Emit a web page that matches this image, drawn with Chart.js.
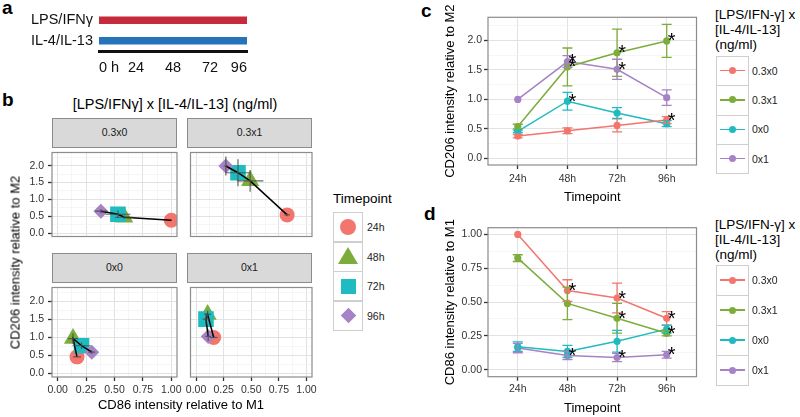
<!DOCTYPE html>
<html>
<head>
<meta charset="utf-8">
<title>CD206 / CD86 time course</title>
<script src="https://cdn.jsdelivr.net/npm/chart.js@4.4.1/dist/chart.umd.min.js"></script>
<style>
  body { margin: 0; background: #fff; }
  #fig { position: relative; width: 800px; height: 417px; overflow: hidden;
         font-family: "Liberation Sans", Arial, Helvetica, sans-serif; color: #000; }
  #fig > * { position: absolute; }
  .letter { font-weight: bold; font-size: 19px; line-height: 20px; }
  .strip { background: #d9d9d9; border: 1px solid #8c8c8c; box-sizing: border-box;
           font-size: 10.5px; line-height: 27px; color: #1a1a1a; text-align: center; }
  .key { border: 1px solid #cfcfcf; box-sizing: border-box; background: #fff; }
  .keytxt { font-size: 10.5px; line-height: 12px; color: #222; }
  .ltitle { font-size: 13.5px; line-height: 15px; }
</style>
</head>
<body>
<div id="fig"></div>
<script>
var FONT = '"Liberation Sans", Arial, Helvetica, sans-serif';
Chart.defaults.font.family = FONT;
Chart.defaults.color = '#333';

// ---- data ----
var timepoints = ['24h', '48h', '72h', '96h'];
var groups = ['0.3x0', '0.3x1', '0x0', '0x1'];

// CD206 intensity relative to M2 (panel c), one row per group
var cd206 = [
  [0.38, 0.47, 0.56, 0.65],
  [0.54, 1.55, 1.79, 1.99],
  [0.46, 0.97, 0.77, 0.59],
  [1.00, 1.64, 1.51, 1.03]
];
var cd206Err = [
  [0.03, 0.05, 0.11, 0.06],
  [0.04, 0.32, 0.40, 0.28],
  [0.02, 0.15, 0.09, 0.05],
  [0.00, 0.10, 0.17, 0.13]
];
var cd206Sig = [[0, 0, 0, 1], [0, 1, 1, 1], [0, 1, 0, 0], [0, 1, 1, 0]];

// CD86 intensity relative to M1 (panel d)
var cd86 = [
  [1.00, 0.585, 0.53, 0.38],
  [0.825, 0.49, 0.38, 0.27],
  [0.17, 0.135, 0.21, 0.30],
  [0.16, 0.105, 0.09, 0.11]
];
var cd86Err = [
  [0.00, 0.08, 0.11, 0.05],
  [0.025, 0.12, 0.11, 0.02],
  [0.035, 0.045, 0.08, 0.03],
  [0.035, 0.03, 0.03, 0.025]
];
var cd86Sig = [[0, 1, 1, 1], [0, 0, 1, 1], [0, 0, 0, 0], [0, 1, 1, 1]];

// panel a: treatment schedule
var treatments = ['LPS/IFNγ', 'IL-4/IL-13'];
var treatmentHours = [[0, 96], [0, 96]];
var hourTicks = [0, 24, 48, 72, 96];

// ---- styles ----
var palette = ['#F2766E', '#7CAD3A', '#1EBBC0', '#A683C4'];
var treatmentColors = ['#C62B3C', '#2574BA'];
var timeShapes = ['circle', 'triangle', 'rect', 'rectRot'];
var timeSizes = [7.5, 10.5, 11, 7.5];

var fig = document.getElementById('fig');

function add(tag, css, text, cls) {
  var e = document.createElement(tag);
  if (cls) e.className = cls;
  e.style.cssText = css;
  if (text != null) e.textContent = text;
  fig.appendChild(e);
  return e;
}

function addCanvas(l, t, w, h) {
  var c = add('canvas', 'left:' + l + 'px;top:' + t + 'px;width:' + w + 'px;height:' + h + 'px;');
  c.width = w;
  c.height = h;
  return c;
}

// error bars drawn through the chart scales
var errorBars = {
  id: 'errorBars',
  afterDatasetsDraw: function (chart, args, opts) {
    var xs = chart.scales.x, ys = chart.scales.y, ctx = chart.ctx;
    ctx.save();
    (opts.bars || []).forEach(function (b) {
      var px = xs.getPixelForValue(b.x), py = ys.getPixelForValue(b.y);
      ctx.strokeStyle = b.color;
      ctx.lineWidth = b.width;
      ctx.beginPath();
      if (b.ey) {
        var y0 = ys.getPixelForValue(b.y - b.ey), y1 = ys.getPixelForValue(b.y + b.ey);
        ctx.moveTo(px, y0); ctx.lineTo(px, y1);
        if (b.cap) {
          ctx.moveTo(px - b.cap, y0); ctx.lineTo(px + b.cap, y0);
          ctx.moveTo(px - b.cap, y1); ctx.lineTo(px + b.cap, y1);
        }
      }
      if (b.ex) {
        var x0 = xs.getPixelForValue(b.x - b.ex), x1 = xs.getPixelForValue(b.x + b.ex);
        ctx.moveTo(x0, py); ctx.lineTo(x1, py);
      }
      ctx.stroke();
    });
    ctx.restore();
  }
};

// significance asterisks
var stars = {
  id: 'stars',
  afterDatasetsDraw: function (chart, args, opts) {
    var xs = chart.scales.x, ys = chart.scales.y, ctx = chart.ctx;
    ctx.save();
    ctx.font = '20px ' + FONT;
    ctx.fillStyle = '#000';
    ctx.textAlign = 'center';
    ctx.textBaseline = 'middle';
    (opts.marks || []).forEach(function (m) {
      ctx.fillText('*', xs.getPixelForValue(m.x), ys.getPixelForValue(m.y) + 1);
    });
    ctx.restore();
  }
};

var panelBorder = {
  id: 'panelBorder',
  afterDraw: function (chart, args, opts) {
    var a = chart.chartArea, ctx = chart.ctx;
    ctx.save();
    ctx.strokeStyle = opts.color || '#8c8c8c';
    ctx.lineWidth = opts.width || 1.2;
    ctx.strokeRect(a.left, a.top, a.right - a.left, a.bottom - a.top);
    ctx.restore();
  }
};

// linear axis with ggplot-like major/minor grid
function axis(o) {
  var step = o.step, inc = o.minor ? step / 2 : step;
  function major(v) { return Math.abs(v / step - Math.round(v / step)) < 1e-6; }
  var first = o.from !== undefined ? o.from : Math.ceil(o.min / inc - 1e-9) * inc;
  var last = o.to !== undefined ? o.to : o.max;
  return {
    type: 'linear', position: o.position, min: o.min, max: o.max,
    afterBuildTicks: function (s) {
      var t = [];
      for (var v = first; v <= last + 1e-9; v += inc) t.push({ value: Math.round(v * 1e4) / 1e4 });
      s.ticks = t;
    },
    afterFit: function (s) {
      if (s.isHorizontal()) s.height = o.size; else s.width = o.size;
      s.paddingLeft = s.paddingRight = s.paddingTop = s.paddingBottom = 0;
    },
    grid: {
      color: function (c) { return c.tick && major(c.tick.value) ? '#e2e2e2' : '#f2f2f2'; },
      lineWidth: function (c) { return c.tick && major(c.tick.value) ? 1 : 0.7; },
      tickColor: function (c) { return o.labels && c.tick && major(c.tick.value) ? '#333' : 'rgba(0,0,0,0)'; },
      tickLength: 4,
      tickWidth: 1.3
    },
    border: { display: false },
    ticks: {
      display: !!o.labels, autoSkip: false, maxRotation: 0, minRotation: 0,
      padding: o.pad || 3, color: '#333', font: { size: 10.5 },
      callback: function (v) { return o.labels && major(v) ? o.labels(v) : ''; }
    },
    title: o.title ? { display: true, text: o.title, color: '#000', font: { size: 13 }, padding: o.titlePad }
                   : { display: false }
  };
}

var baseOpts = {
  responsive: false, animation: false, events: [],
  plugins: { legend: { display: false }, tooltip: { enabled: false } }
};

function opts(extra) {
  var o = Object.assign({}, baseOpts, extra);
  o.plugins = Object.assign({}, baseOpts.plugins, extra.plugins || {});
  return o;
}

// ---- panel letters / titles ----
add('div', 'left:2px;top:-2px;', 'a', 'letter');
add('div', 'left:2px;top:90px;', 'b', 'letter');
add('div', 'left:421px;top:1px;', 'c', 'letter');
add('div', 'left:424px;top:204px;', 'd', 'letter');

// ---- panel a ----
new Chart(addCanvas(0, 0, 270, 80), {
  type: 'bar',
  data: {
    labels: treatments,
    datasets: [{ data: treatmentHours, backgroundColor: treatmentColors, barThickness: 7, borderWidth: 0 }]
  },
  options: opts({
    indexAxis: 'y',
    layout: { padding: { top: 10, right: 23, left: 0, bottom: 0 } },
    scales: {
      x: {
        type: 'linear', min: 0, max: 96,
        afterBuildTicks: function (s) { s.ticks = hourTicks.map(function (v) { return { value: v }; }); },
        afterFit: function (s) { s.height = 29; s.paddingLeft = 0; s.paddingRight = 0; },
        grid: { display: false, drawTicks: false },
        border: { display: true, color: '#111', width: 3 },
        ticks: { align: 'inner', padding: 8, color: '#111', font: { size: 14.5 },
                 callback: function (v) { return v === 0 ? '0 h' : String(v); } }
      },
      y: {
        afterFit: function (s) { s.width = 99; s.paddingTop = 0; s.paddingBottom = 0; },
        grid: { display: false, drawTicks: false },
        border: { display: false },
        ticks: { padding: 6, color: '#111', font: { size: 14.5 } }
      }
    }
  })
});

// ---- panel b: facets ----
add('div', 'left:0;width:350px;top:96px;text-align:center;font-size:14.5px;line-height:17px;',
    '[LPS/IFNγ] x [IL-4/IL-13] (ng/ml)');

var facetPanels = [[52, 147, 177, 242], [187, 147, 312, 242], [52, 282, 177, 377], [187, 282, 312, 377]];

function facetPoints(g) {
  return timepoints.map(function (t, i) { return { x: cd86[g][i], y: cd206[g][i] }; });
}

groups.forEach(function (g, gi) {
  var col = gi % 2, row = Math.floor(gi / 2);
  var p = facetPanels[gi];
  var L = col === 0 ? 52 : 4, R = 14, T = 2, B = row === 1 ? 24 : 2;
  add('div', 'left:' + p[0] + 'px;top:' + (p[1] - 29) + 'px;width:' + (p[2] - p[0]) + 'px;height:30px;', g, 'strip');
  var cv = addCanvas(p[0] - L, p[1] - T, p[2] - p[0] + L + R, p[3] - p[1] + T + B);
  var bars = timepoints.map(function (t, i) {
    return { x: cd86[gi][i], y: cd206[gi][i], ex: cd86Err[gi][i], ey: cd206Err[gi][i],
             color: 'rgba(75,75,75,0.85)', width: 1.2, cap: 0 };
  });
  new Chart(cv, {
    type: 'line',
    data: {
      datasets: [
        { data: facetPoints(gi), showLine: false, pointStyle: timeShapes, pointRadius: timeSizes,
          pointBackgroundColor: palette, pointBorderWidth: 0, order: 2, clip: 0 },
        { data: facetPoints(gi), borderColor: '#000', borderWidth: 1.5, pointRadius: 0, tension: 0,
          order: 1, clip: 0 }
      ]
    },
    options: opts({
      layout: { padding: { left: 0, top: T, right: R, bottom: 0 } },
      plugins: { errorBars: { bars: bars }, panelBorder: { color: '#8c8c8c', width: 1.2 } },
      scales: {
        x: axis({ position: 'bottom', min: -0.05, max: 1.05, step: 0.25, minor: true, size: B,
                  labels: row === 1 ? function (v) { return v.toFixed(2); } : null, pad: 3 }),
        y: axis({ position: 'left', min: -0.1, max: 2.39, step: 0.5, minor: true, size: L,
                  labels: col === 0 ? function (v) { return v.toFixed(1); } : null, pad: 4 })
      }
    }),
    plugins: [errorBars, panelBorder]
  });
});

add('div', 'left:95px;width:172px;top:397px;text-align:center;font-size:13px;line-height:15px;',
    'CD86 intensity relative to M1');
add('div', 'left:-75px;width:180px;top:255px;text-align:center;font-size:13px;line-height:15px;transform:rotate(-90deg);',
    'CD206 intensity relative to M2');

// legend b
add('div', 'left:333px;top:191px;font-size:13.5px;line-height:16px;', 'Timepoint');
timepoints.forEach(function (t, i) {
  var top = 212 + i * 29.5, cy = top + 15;
  add('div', 'left:333px;top:' + top + 'px;width:30px;height:30px;', null, 'key');
  var c = palette[i], s;
  if (i === 0) s = 'left:339.5px;top:' + (cy - 8) + 'px;width:16px;height:16px;border-radius:50%;background:' + c + ';';
  if (i === 1) s = 'left:337.5px;top:' + (cy - 9.5) + 'px;width:0;height:0;border-left:10px solid transparent;border-right:10px solid transparent;border-bottom:17px solid ' + c + ';';
  if (i === 2) s = 'left:340.5px;top:' + (cy - 7.5) + 'px;width:15px;height:15px;background:' + c + ';';
  if (i === 3) s = 'left:342.5px;top:' + (cy - 5.5) + 'px;width:11px;height:11px;background:' + c + ';transform:rotate(45deg);';
  add('div', s);
  add('div', 'left:367px;top:' + (cy - 6) + 'px;', t, 'keytxt');
});

// ---- panels c and d ----
function timeCourse(o) {
  var cv = addCanvas(400, o.top, 305, o.height);
  var bars = [], marks = [];
  groups.forEach(function (g, gi) {
    timepoints.forEach(function (t, i) {
      bars.push({ x: i, y: o.values[gi][i], ey: o.errs[gi][i], color: palette[gi], width: 1.3, cap: 5 });
      if (o.sig[gi][i]) marks.push({ x: i + 0.1, y: o.values[gi][i] });
    });
  });
  new Chart(cv, {
    type: 'line',
    data: {
      datasets: groups.map(function (g, gi) {
        return {
          label: g,
          data: o.values[gi].map(function (v, i) { return { x: i, y: v }; }),
          borderColor: palette[gi], backgroundColor: palette[gi], borderWidth: 1.5, tension: 0,
          pointRadius: 3.6, pointBorderWidth: 0, pointBackgroundColor: palette[gi]
        };
      })
    },
    options: opts({
      layout: { padding: { left: 0, top: o.padTop, right: 8.5, bottom: 0 } },
      plugins: { errorBars: { bars: bars }, stars: { marks: marks }, panelBorder: { color: '#8c8c8c', width: 1.2 } },
      scales: {
        x: axis({ position: 'bottom', min: -0.6, max: 3.6, step: 1, from: 0, to: 3, size: o.xSize,
                  labels: function (v) { return timepoints[v]; }, pad: o.xPad,
                  title: 'Timepoint', titlePad: { top: 0, bottom: o.titleBottom } }),
        y: axis({ position: 'left', min: o.min, max: o.max, step: o.step, minor: true, size: 88,
                  labels: o.fmt, pad: 2, title: o.title, titlePad: { top: 43, bottom: 0 } })
      }
    }),
    plugins: [errorBars, stars, panelBorder]
  });

  // legend
  add('div', 'left:715px;top:' + o.legTop + 'px;', null, 'ltitle').innerHTML =
    '[LPS/IFN-γ] x<br>[IL-4/IL-13]<br>(ng/ml)';
  groups.forEach(function (g, gi) {
    var top = o.keyTop + gi * o.keyH, cy = top + o.keyH / 2;
    add('div', 'left:716px;top:' + top + 'px;width:33px;height:' + (o.keyH + 1) + 'px;', null, 'key');
    add('div', 'left:720px;top:' + (cy - 0.75) + 'px;width:25px;height:1.5px;background:' + palette[gi] + ';');
    add('div', 'left:729px;top:' + (cy - 3.5) + 'px;width:7px;height:7px;border-radius:50%;background:' + palette[gi] + ';');
    add('div', 'left:752px;top:' + (cy - 6) + 'px;', g, 'keytxt');
  });
}

timeCourse({
  top: 0, height: 210, padTop: 17.3, xSize: 45, xPad: 4, titleBottom: 5.2,
  values: cd206, errs: cd206Err, sig: cd206Sig,
  min: -0.11, max: 2.39, step: 0.5, fmt: function (v) { return v.toFixed(1); },
  title: 'CD206 intensity relative to M2',
  legTop: 7, keyTop: 56, keyH: 29.3
});

timeCourse({
  top: 205, height: 212, padTop: 22.7, xSize: 40.3, xPad: 2, titleBottom: 1,
  values: cd86, errs: cd86Err, sig: cd86Sig,
  min: -0.052, max: 1.05, step: 0.25, fmt: function (v) { return v.toFixed(2); },
  title: 'CD86 intensity relative to M1',
  legTop: 217, keyTop: 265, keyH: 30
});
</script>
</body>
</html>
